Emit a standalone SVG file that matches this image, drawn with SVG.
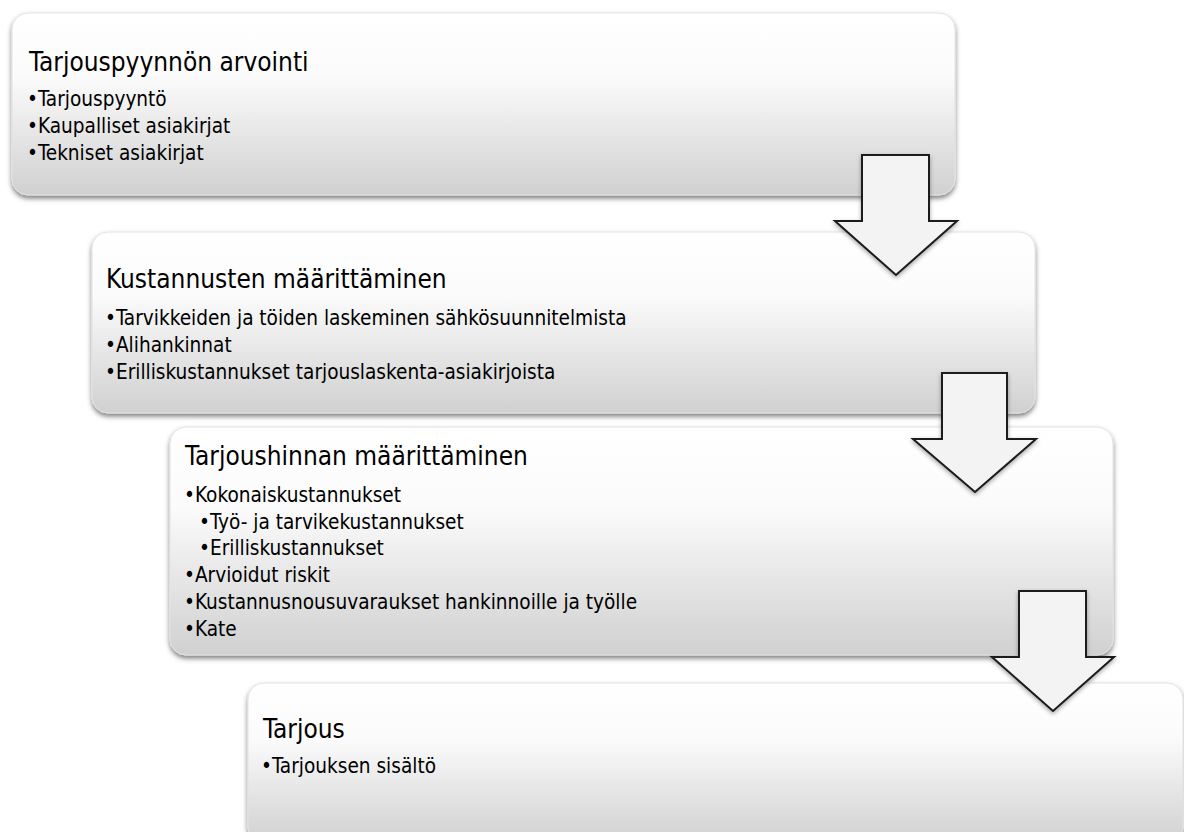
<svg xmlns="http://www.w3.org/2000/svg" width="1184" height="832" viewBox="0 0 1184 832">
<defs>
<linearGradient id="boxg" x1="0" y1="0" x2="0" y2="1">
<stop offset="0" stop-color="#ffffff"/>
<stop offset="0.35" stop-color="#fbfbfb"/>
<stop offset="1" stop-color="#d0d0d0"/>
</linearGradient>
<filter id="sh" x="-5%" y="-10%" width="110%" height="125%">
<feDropShadow dx="0" dy="3" stdDeviation="2.5" flood-color="#000" flood-opacity="0.5"/>
</filter>
<filter id="ash" x="-20%" y="-20%" width="140%" height="140%">
<feDropShadow dx="0" dy="2" stdDeviation="2" flood-color="#000" flood-opacity="0.35"/>
</filter>
</defs>
<style>
.box{fill:url(#boxg);stroke:#e2e2e2;stroke-width:1;filter:url(#sh)}
.arr{fill:#f3f3f3;stroke:#1a1a1a;stroke-width:2;stroke-linejoin:miter;filter:url(#ash)}
text{font-family:"DejaVu Sans Condensed","DejaVu Sans",sans-serif;font-stretch:condensed;fill:#000}
.t{font-size:26px}
.b{font-size:20.6px}
</style>
<rect width="1184" height="832" fill="#ffffff"/>
<g id="node1">
<rect class="box" x="12" y="13" width="943" height="182" rx="16"/>
<text class="t" x="29" y="71">Tarjouspyynnön arvointi</text>
<text class="b" x="27" y="106">•Tarjouspyyntö</text>
<text class="b" x="27" y="133">•Kaupalliset asiakirjat</text>
<text class="b" x="27" y="160">•Tekniset asiakirjat</text>
</g>
<g id="node2">
<rect class="box" x="92" y="232" width="943" height="181" rx="16"/>
<text class="t" x="106" y="288">Kustannusten määrittäminen</text>
<text class="b" x="105" y="325">•Tarvikkeiden ja töiden laskeminen sähkösuunnitelmista</text>
<text class="b" x="105" y="352">•Alihankinnat</text>
<text class="b" x="105" y="379">•Erilliskustannukset tarjouslaskenta-asiakirjoista</text>
</g>
<g id="node3">
<rect class="box" x="170" y="427" width="943" height="228" rx="16"/>
<text class="t" x="185" y="465">Tarjoushinnan määrittäminen</text>
<text class="b" x="184" y="502">•Kokonaiskustannukset</text>
<text class="b" x="199" y="529">•Työ- ja tarvikekustannukset</text>
<text class="b" x="199" y="555">•Erilliskustannukset</text>
<text class="b" x="184" y="582">•Arvioidut riskit</text>
<text class="b" x="184" y="609">•Kustannusnousuvaraukset hankinnoille ja työlle</text>
<text class="b" x="184" y="636">•Kate</text>
</g>
<g id="node4">
<rect class="box" x="248" y="683" width="935" height="160" rx="16"/>
<text class="t" x="263" y="738">Tarjous</text>
<text class="b" x="261" y="773">•Tarjouksen sisältö</text>
</g>
<g id="connectors">
<polygon class="arr" points="862,155 929,155 929,221 957,221 896,275 835,221 862,221"/>
<polygon class="arr" points="942,373 1007,373 1007,439 1036,439 975,492 913,439 942,439"/>
<polygon class="arr" points="1019,591 1086,591 1086,657 1114,657 1053,711 992,657 1019,657"/>
</g>
</svg>
